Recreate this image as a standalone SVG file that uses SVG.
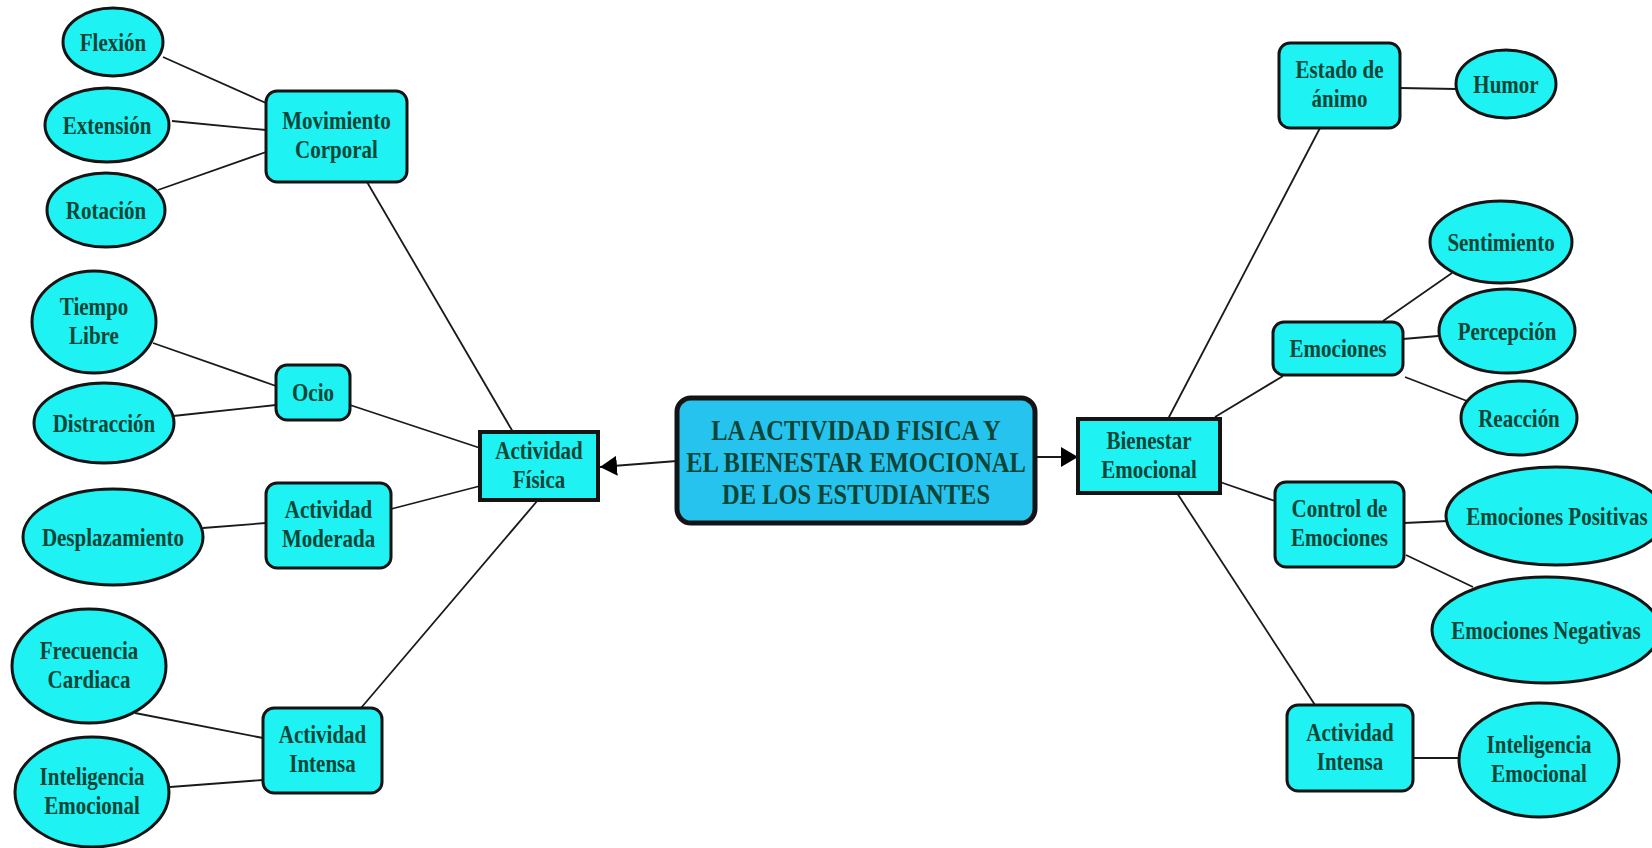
<svg xmlns="http://www.w3.org/2000/svg" width="1652" height="848" viewBox="0 0 1652 848">
<style>
.bg{fill:#ffffff}
.el{fill:#1ef2f2;stroke:#141414;stroke-width:3}
.rb{fill:#1ef2f2;stroke:#141414;stroke-width:3}
.sq{fill:#1ef2f2;stroke:#141414;stroke-width:4}
.main{fill:#27c3ef;stroke:#141414;stroke-width:5}
.t{font-family:"Liberation Serif","Times New Roman",serif;font-weight:bold;font-size:21px;fill:#0d4536;text-anchor:middle}
.tm{font-family:"Liberation Serif","Times New Roman",serif;font-weight:bold;font-size:24.5px;fill:#0d4536;text-anchor:middle}
.c line{stroke:#1a1a1a;stroke-width:1.8;fill:none}
</style>
<defs>
<marker id="ah" markerUnits="userSpaceOnUse" markerWidth="18" markerHeight="22" refX="17" refY="10" orient="auto">
<path d="M0,0 L17,10 L0,20 Z" fill="#000"/>
</marker>
</defs>
<rect class="bg" x="0" y="0" width="1652" height="848"/>
<g class="c" id="connectors">
<line x1="163" y1="57" x2="266" y2="103"/>
<line x1="172" y1="121" x2="266" y2="130"/>
<line x1="158" y1="190" x2="266" y2="152"/>
<line x1="367" y1="182" x2="513" y2="432"/>
<line x1="153" y1="343" x2="276" y2="386"/>
<line x1="173" y1="416" x2="276" y2="405"/>
<line x1="350" y1="405" x2="480" y2="448"/>
<line x1="203" y1="528" x2="266" y2="523"/>
<line x1="391" y1="509" x2="480" y2="486"/>
<line x1="538" y1="500" x2="361" y2="708"/>
<line x1="135" y1="713" x2="263" y2="738"/>
<line x1="170" y1="787" x2="263" y2="780"/>
<line x1="677" y1="461" x2="600" y2="467" marker-end="url(#ah)"/>
<line x1="1035" y1="457" x2="1078" y2="457" marker-end="url(#ah)"/>
<line x1="1168" y1="419" x2="1320" y2="128"/>
<line x1="1400" y1="88" x2="1456" y2="89"/>
<line x1="1215" y1="417" x2="1283" y2="376"/>
<line x1="1383" y1="321" x2="1452" y2="273"/>
<line x1="1403" y1="339" x2="1438" y2="336"/>
<line x1="1405" y1="377" x2="1467" y2="401"/>
<line x1="1220" y1="482" x2="1275" y2="501"/>
<line x1="1404" y1="523" x2="1448" y2="521"/>
<line x1="1406" y1="555" x2="1473" y2="587"/>
<line x1="1177" y1="493" x2="1315" y2="705"/>
<line x1="1413" y1="758" x2="1459" y2="758"/>
</g>
<g id="flexion"><ellipse class="el" cx="113" cy="42" rx="50" ry="34"/><text class="t" transform="translate(113,42) scale(1,1.22)"><tspan x="0" y="7">Flexión</tspan></text></g>
<g id="extension"><ellipse class="el" cx="107" cy="125" rx="62" ry="37"/><text class="t" transform="translate(107,125) scale(1,1.22)"><tspan x="0" y="7">Extensión</tspan></text></g>
<g id="rotacion"><ellipse class="el" cx="106" cy="210" rx="59" ry="37"/><text class="t" transform="translate(106,210) scale(1,1.22)"><tspan x="0" y="7">Rotación</tspan></text></g>
<g id="movimiento"><rect class="rb" x="266" y="91" width="141" height="91" rx="11"/><text class="t" transform="translate(336.5,136.5) scale(1,1.22)"><tspan x="0" y="-6">Movimiento</tspan><tspan x="0" y="18">Corporal</tspan></text></g>
<g id="tiempo"><ellipse class="el" cx="94" cy="322" rx="62" ry="51"/><text class="t" transform="translate(94,322) scale(1,1.22)"><tspan x="0" y="-6">Tiempo</tspan><tspan x="0" y="18">Libre</tspan></text></g>
<g id="distraccion"><ellipse class="el" cx="104" cy="423" rx="70" ry="40"/><text class="t" transform="translate(104,423) scale(1,1.22)"><tspan x="0" y="7">Distracción</tspan></text></g>
<g id="ocio"><rect class="rb" x="276" y="365" width="74" height="55" rx="11"/><text class="t" transform="translate(313,392.5) scale(1,1.22)"><tspan x="0" y="7">Ocio</tspan></text></g>
<g id="desplazamiento"><ellipse class="el" cx="113" cy="537" rx="90" ry="48"/><text class="t" transform="translate(113,537) scale(1,1.22)"><tspan x="0" y="7">Desplazamiento</tspan></text></g>
<g id="moderada"><rect class="rb" x="266" y="483" width="125" height="85" rx="11"/><text class="t" transform="translate(328.5,525.5) scale(1,1.22)"><tspan x="0" y="-6">Actividad</tspan><tspan x="0" y="18">Moderada</tspan></text></g>
<g id="fisica"><rect class="sq" x="480" y="432" width="118" height="68"/><text class="t" transform="translate(539,466) scale(1,1.22)"><tspan x="0" y="-6">Actividad</tspan><tspan x="0" y="18">Física</tspan></text></g>
<g id="frecuencia"><ellipse class="el" cx="89" cy="666" rx="77" ry="57"/><text class="t" transform="translate(89,666) scale(1,1.22)"><tspan x="0" y="-6">Frecuencia</tspan><tspan x="0" y="18">Cardiaca</tspan></text></g>
<g id="inteligencia-l"><ellipse class="el" cx="92" cy="792" rx="77" ry="55"/><text class="t" transform="translate(92,792) scale(1,1.22)"><tspan x="0" y="-6">Inteligencia</tspan><tspan x="0" y="18">Emocional</tspan></text></g>
<g id="intensa-l"><rect class="rb" x="263" y="708" width="119" height="85" rx="11"/><text class="t" transform="translate(322.5,750.5) scale(1,1.22)"><tspan x="0" y="-6">Actividad</tspan><tspan x="0" y="18">Intensa</tspan></text></g>
<g id="central"><rect class="main" x="677" y="398" width="358" height="125" rx="14"/><text class="tm" transform="translate(856,460.5) scale(1,1.2)"><tspan x="0" y="-17.1">LA ACTIVIDAD FISICA Y</tspan><tspan x="0" y="9.6">EL BIENESTAR EMOCIONAL</tspan><tspan x="0" y="36.3">DE LOS ESTUDIANTES</tspan></text></g>
<g id="bienestar"><rect class="sq" x="1078" y="419" width="142" height="74"/><text class="t" transform="translate(1149,456) scale(1,1.22)"><tspan x="0" y="-6">Bienestar</tspan><tspan x="0" y="18">Emocional</tspan></text></g>
<g id="estado"><rect class="rb" x="1279" y="43" width="121" height="85" rx="11"/><text class="t" transform="translate(1339.5,85.5) scale(1,1.22)"><tspan x="0" y="-6">Estado de</tspan><tspan x="0" y="18">ánimo</tspan></text></g>
<g id="humor"><ellipse class="el" cx="1506" cy="84" rx="50" ry="34"/><text class="t" transform="translate(1506,84) scale(1,1.22)"><tspan x="0" y="7">Humor</tspan></text></g>
<g id="sentimiento"><ellipse class="el" cx="1501" cy="242" rx="71" ry="41"/><text class="t" transform="translate(1501,242) scale(1,1.22)"><tspan x="0" y="7">Sentimiento</tspan></text></g>
<g id="percepcion"><ellipse class="el" cx="1507" cy="331" rx="68" ry="42"/><text class="t" transform="translate(1507,331) scale(1,1.22)"><tspan x="0" y="7">Percepción</tspan></text></g>
<g id="emociones"><rect class="rb" x="1273" y="322" width="130" height="53" rx="11"/><text class="t" transform="translate(1338,348.5) scale(1,1.22)"><tspan x="0" y="7">Emociones</tspan></text></g>
<g id="reaccion"><ellipse class="el" cx="1519" cy="418" rx="58" ry="37"/><text class="t" transform="translate(1519,418) scale(1,1.22)"><tspan x="0" y="7">Reacción</tspan></text></g>
<g id="control"><rect class="rb" x="1275" y="482" width="129" height="85" rx="11"/><text class="t" transform="translate(1339.5,524.5) scale(1,1.22)"><tspan x="0" y="-6">Control de</tspan><tspan x="0" y="18">Emociones</tspan></text></g>
<g id="positivas"><ellipse class="el" cx="1556" cy="516" rx="110" ry="49"/><text class="t" transform="translate(1557,516) scale(1,1.22)"><tspan x="0" y="7">Emociones Positivas</tspan></text></g>
<g id="negativas"><ellipse class="el" cx="1546" cy="630" rx="114" ry="53"/><text class="t" transform="translate(1546,630) scale(1,1.22)"><tspan x="0" y="7">Emociones Negativas</tspan></text></g>
<g id="intensa-r"><rect class="rb" x="1287" y="705" width="126" height="86" rx="11"/><text class="t" transform="translate(1350,748) scale(1,1.22)"><tspan x="0" y="-6">Actividad</tspan><tspan x="0" y="18">Intensa</tspan></text></g>
<g id="inteligencia-r"><ellipse class="el" cx="1539" cy="760" rx="80" ry="57"/><text class="t" transform="translate(1539,760) scale(1,1.22)"><tspan x="0" y="-6">Inteligencia</tspan><tspan x="0" y="18">Emocional</tspan></text></g>
</svg>
